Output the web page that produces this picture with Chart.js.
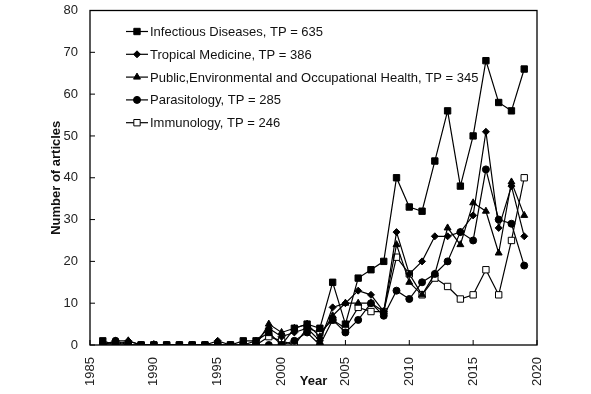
<!DOCTYPE html>
<html>
<head>
<meta charset="utf-8">
<title>Number of articles by year</title>
<script src="https://cdn.jsdelivr.net/npm/chart.js"></script>
<style>
	html, body { margin: 0; padding: 0; background: #fff; }
	#wrap { width: 591px; height: 394px; }
</style>
</head>
<body>
<div id="wrap"><canvas id="chart" width="591" height="394"></canvas></div>
<script>
// data (1986 - 2019)
const years = [1986,1987,1988,1989,1990,1991,1992,1993,1994,1995,1996,1997,1998,1999,2000,2001,2002,2003,2004,2005,2006,2007,2008,2009,2010,2011,2012,2013,2014,2015,2016,2017,2018,2019];
const infectious = [1,0,0,0,0,0,0,0,0,0,0,1,1,3,0,4,5,4,15,5,16,18,20,40,33,32,44,56,38,50,68,58,56,66];
const tropical   = [0,1,1,0,0,0,0,0,0,1,0,0,1,4,2,3,4,1,9,10,13,12,8,27,17,20,26,26,27,31,51,28,38,26];
const publicHealth = [0,0,1,0,0,0,0,0,0,0,0,0,0,5,3,4,5,2,7,10,10,10,8,24,15,12,17,28,24,34,32,22,39,31];
const parasitology = [0,1,0,0,0,0,0,0,0,0,0,0,0,0,0,1,3,0,6,3,6,10,7,13,11,15,17,20,27,25,42,30,29,19];
const immunology = [0,0,0,0,0,0,0,0,0,0,0,0,0,2,1,0,4,3,6,4,9,8,8,21,17,12,16,14,11,12,18,12,25,40];
const labels = ['Infectious Diseases, TP = 635', 'Tropical Medicine, TP = 386', 'Public,Environmental and Occupational Health, TP = 345', 'Parasitology, TP = 285', 'Immunology, TP = 246'];

const FONT = 'Liberation Sans, Arial, sans-serif';

function series(label, vals, style, radius, fill) {
	return {
		label: label,
		data: vals.map((v, i) => ({ x: years[i], y: v })),
		borderColor: '#000', borderWidth: 1.2,
		pointStyle: style, pointRadius: radius, pointBorderWidth: 1,
		pointBackgroundColor: fill, pointBorderColor: '#000',
		tension: 0
	};
}

const sets = [
	series(labels[0], infectious, 'rect', 4.5, '#000'),
	series(labels[1], tropical, 'rectRot', 3.5, '#000'),
	series(labels[2], publicHealth, 'triangle', 4, '#000'),
	series(labels[3], parasitology, 'circle', 3.5, '#000'),
	series(labels[4], immunology, 'rect', 4.5, '#fff')
];

// frame, inner tick marks and legend inside the plot
const frame = {
	id: 'frame',
	afterDraw(c) {
		const ctx = c.ctx, a = c.chartArea, xs = c.scales.x, ys = c.scales.y;
		ctx.save();
		ctx.strokeStyle = '#000';
		ctx.lineWidth = 1.3;
		ctx.strokeRect(a.left, a.top, a.right - a.left, a.bottom - a.top);
		ctx.lineWidth = 1;
		ctx.beginPath();
		xs.ticks.forEach(t => { let p = xs.getPixelForValue(t.value); ctx.moveTo(p, a.bottom); ctx.lineTo(p, a.bottom - 5); });
		ys.ticks.forEach(t => { let p = ys.getPixelForValue(t.value); ctx.moveTo(a.left, p); ctx.lineTo(a.left + 5, p); });
		ctx.stroke();

		ctx.font = '13px ' + FONT;
		ctx.textBaseline = 'middle';
		ctx.fillStyle = '#111';
		c.data.datasets.forEach((d, i) => {
			let y = a.top + 21 + i * 22.8, x0 = a.left + 36;
			ctx.beginPath();
			ctx.lineWidth = 1.2;
			ctx.moveTo(x0, y); ctx.lineTo(x0 + 22, y);
			ctx.stroke();
			ctx.fillStyle = d.pointBackgroundColor;
			ctx.lineWidth = 1;
			Chart.helpers.drawPoint(ctx, { pointStyle: d.pointStyle, radius: d.pointRadius, borderWidth: 1 }, x0 + 11, y);
			ctx.fillStyle = '#111';
			ctx.fillText(d.label, x0 + 24, y + 1);
		});
		ctx.restore();
	}
};

new Chart(document.getElementById('chart'), {
	type: 'line',
	data: { datasets: sets },
	options: {
		responsive: false,
		animation: false,
		layout: { padding: { top: 0, right: 54, left: 49, bottom: 5 } },
		plugins: { legend: { display: false }, tooltip: { enabled: false } },
		scales: {
			x: {
				type: 'linear', min: 1985, max: 2020,
				grid: { display: false },
				border: { display: false },
				ticks: { stepSize: 5, minRotation: 90, maxRotation: 90, padding: 4, color: '#222', font: { family: FONT, size: 13, lineHeight: 1 }, callback: v => String(v) },
				title: { display: true, text: 'Year', color: '#111', font: { family: FONT, size: 13, weight: 'bold' }, padding: { top: 0, bottom: 0 } },
				afterFit: s => { s.height = 44; }
			},
			y: {
				min: 0, max: 80,
				grid: { display: false },
				border: { display: false },
				ticks: { stepSize: 10, padding: 4, color: '#222', font: { family: FONT, size: 13, lineHeight: 1 } },
				title: { display: true, text: 'Number of articles', color: '#111', font: { family: FONT, size: 13, weight: 'bold' }, padding: { top: 0, bottom: 0 } },
				afterFit: s => { s.width = 41; }
			}
		}
	},
	plugins: [frame]
});
</script>
</body>
</html>
